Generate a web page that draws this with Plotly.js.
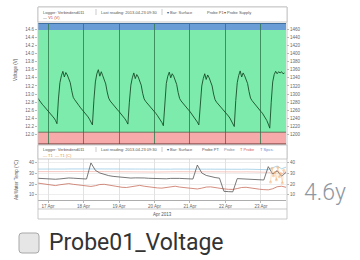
<!DOCTYPE html>
<html><head><meta charset="utf-8">
<script src="https://cdn.plot.ly/plotly-3.0.1.min.js"></script>
<style>html,body{margin:0;padding:0;background:#fff;overflow:hidden}#c{width:360px;height:260px}</style>
</head><body><div id="c"></div>
<script>
// ---------- data ----------
const voltStart = [2013, 3, 16, 17];   // 16 Apr 2013 17:00, hourly samples
const voltDay0 = [12.90,12.84,12.79,12.75,12.71,12.67,12.63,12.59,12.55,12.51,12.46,12.41,12.35,12.27,12.88,13.28,13.45,13.56,13.42,13.53,13.47,13.38,13.28,13.08];
const voltDay1 = [12.92,12.86,12.80,12.76,12.71,12.66,12.62,12.58,12.54,12.49,12.44,12.38,12.31,12.24,12.85,13.30,13.50,13.60,13.44,13.55,13.45,13.36,13.25,13.05];
const voltDay2 = [12.90,12.83,12.78,12.74,12.70,12.66,12.61,12.57,12.53,12.49,12.44,12.39,12.33,12.26,12.80,13.22,13.40,13.52,13.38,13.48,13.42,13.33,13.22,13.02];
const voltDay3 = [12.88,12.82,12.78,12.73,12.69,12.65,12.60,12.56,12.52,12.47,12.42,12.36,12.30,12.22,12.82,13.26,13.44,13.54,13.40,13.50,13.44,13.35,13.24,13.04];
const voltDay4 = [12.89,12.83,12.78,12.74,12.70,12.65,12.61,12.57,12.52,12.48,12.43,12.37,12.31,12.24,12.78,13.20,13.38,13.50,13.36,13.47,13.40,13.32,13.20,13.00];
const voltDay5 = [12.86,12.80,12.76,12.72,12.67,12.63,12.59,12.55,12.50,12.46,12.41,12.35,12.28,12.20,12.84,13.28,13.46,13.57,13.42,13.52,13.45,13.36,13.26,13.06];
const voltDay6 = [12.90,12.84,12.79,12.74,12.70,12.66,12.62,12.57,12.53,12.48,12.42,12.35,12.26,12.16,12.80,13.30,13.48,13.56,13.50,13.55,13.52,13.55,13.50,13.52];

const tempStart = [2013, 3, 16, 17];   // 3-hourly samples
const waterTemp = [25.5,25.2,25.0,24.8,24.6,24.9,25.4,25.8,
                   25.6,25.3,25.0,24.8,40.0,33.0,30.5,29.0,
                   28.0,27.3,26.8,26.3,26.0,25.7,25.9,26.1,
                   25.8,25.5,25.3,25.0,24.8,25.0,25.4,25.6,
                   25.4,25.2,25.0,24.8,38.0,30.5,28.2,27.0,
                   26.2,25.6,13.2,12.9,12.7,25.2,25.0,24.8,
                   24.6,24.3,24.1,23.9,36.5,29.5,32.5,27.5,31.0];
const airTemp   = [21.0,20.5,19.8,19.0,18.6,19.4,20.2,20.5,
                   19.8,19.2,18.5,18.0,17.8,18.5,19.6,19.8,
                   19.0,18.2,17.5,17.0,16.8,17.5,18.5,18.8,
                   18.0,17.3,16.8,16.4,16.2,16.8,17.8,18.0,
                   17.2,16.6,16.0,15.6,15.4,16.2,17.2,17.4,
                   16.6,16.0,15.5,15.1,15.0,15.8,16.8,17.0,
                   16.2,15.6,15.2,14.8,14.6,15.6,17.5,18.0,17.0];
const probeTemp = [34.2,34.1,34.0,34.0,33.9,34.0,34.2,34.3,
                   34.2,34.1,34.0,33.9,33.9,34.1,34.3,34.3,
                   34.2,34.0,33.9,33.9,33.8,34.0,34.2,34.2,
                   34.1,34.0,33.9,33.8,33.8,34.0,34.1,34.2,
                   34.1,34.0,33.9,33.8,33.7,33.9,34.1,34.1,
                   34.0,33.9,33.8,33.7,33.7,33.9,34.0,34.1,
                   34.0,33.9,33.8,33.7,33.6,35.5,37.0,34.5,36.0];
const loggerTemp = [31.8,31.7,31.6,31.6,31.5,31.6,31.8,31.9,
                   31.8,31.7,31.6,31.5,31.5,31.6,31.8,31.8,
                   31.7,31.6,31.5,31.5,31.4,31.5,31.7,31.7,
                   31.6,31.5,31.4,31.4,31.3,31.5,31.6,31.7,
                   31.6,31.5,31.4,31.3,31.3,31.4,31.6,31.6,
                   31.5,31.4,31.3,31.3,31.2,31.4,31.5,31.6,
                   31.5,31.4,31.3,31.2,31.2,30.0,33.0,29.5,32.0];
const spotTimes = ['2013-04-23 06:30','2013-04-23 07:30','2013-04-23 08:30','2013-04-23 09:30','2013-04-23 10:30','2013-04-23 11:30','2013-04-23 12:30','2013-04-23 13:30','2013-04-23 14:30','2013-04-23 15:30'];
const spotTemp  = [22, 35, 28, 31, 24, 36, 27, 30, 21, 33];

const xRange = ['2013-04-16 17:10', '2013-04-23 17:00'];
const dateTicks = ['2013-04-17','2013-04-18','2013-04-19','2013-04-20','2013-04-21','2013-04-22','2013-04-23'];
const dateTickLabels = ['17 Apr','18 Apr','19 Apr','20 Apr','21 Apr','22 Apr','23 Apr'];
const voltTicks = [12.0,12.2,12.4,12.6,12.8,13.0,13.2,13.4,13.6,13.8,14.0,14.2,14.4,14.6];
const voltTickLabels = ['12.0','12.2','12.4','12.6','12.8','13.0','13.2','13.4','13.6','13.8','14.0','14.2','14.4','14.6'];
const voltRightLabels = ['1200','1220','1240','1260','1280','1300','1320','1340','1360','1380','1400','1420','1440','1460'];
const tempTicks = [10, 20, 30, 40];
const tempTickLabels = ['10','20','30','40'];
const bands = {blue:[14.58, 14.75], green:[12.06, 14.58], red:[11.77, 12.06]};

// ---------- helpers ----------
function pad(n){return (n<10?'0':'')+n;}
function times(start, stepH, n){
  const t0 = Date.UTC(start[0], start[1], start[2], start[3]);
  const out = [];
  for (let i=0;i<n;i++){
    const d = new Date(t0 + i*stepH*3600e3);
    out.push(d.getUTCFullYear()+'-'+pad(d.getUTCMonth()+1)+'-'+pad(d.getUTCDate())+' '+pad(d.getUTCHours())+':'+pad(d.getUTCMinutes()));
  }
  return out;
}
const voltage = [].concat(voltDay0,voltDay1,voltDay2,voltDay3,voltDay4,voltDay5,voltDay6);
const voltTimes = times(voltStart, 1, voltage.length);
const tempTimes = times(tempStart, 3, waterTemp.length);

const W=360, H=260;
const px = x => x/W, py = y => 1 - y/H;
const L=38, R=286;

const traces = [
  {x:voltTimes, y:voltage, xaxis:'x', yaxis:'y', mode:'lines', line:{color:'#174d28', width:0.9}, hoverinfo:'skip'},
  {x:[xRange[0]], y:[13], xaxis:'x', yaxis:'y3', mode:'markers', marker:{opacity:0}, hoverinfo:'skip'},
  {x:tempTimes, y:probeTemp, xaxis:'x2', yaxis:'y2', mode:'lines', line:{color:'#9ccbe6', width:0.8}, hoverinfo:'skip'},
  {x:tempTimes, y:loggerTemp, xaxis:'x2', yaxis:'y2', mode:'lines', line:{color:'#f2b9b0', width:0.8}, hoverinfo:'skip'},
  {x:tempTimes, y:airTemp, xaxis:'x2', yaxis:'y2', mode:'lines', line:{color:'#c8705e', width:0.8}, hoverinfo:'skip'},
  {x:tempTimes, y:waterTemp, xaxis:'x2', yaxis:'y2', mode:'lines', line:{color:'#555', width:0.8}, hoverinfo:'skip'},
  {x:spotTimes, y:spotTemp, xaxis:'x2', yaxis:'y2', mode:'lines+markers', line:{color:'rgba(245,175,110,0.5)', width:0.8}, marker:{color:'rgba(245,175,110,0.5)', size:3}, hoverinfo:'skip'},
  {x:[xRange[0]], y:[20], xaxis:'x2', yaxis:'y4', mode:'markers', marker:{opacity:0}, hoverinfo:'skip'}
];

const tf = {size:4.5, color:'#666', family:'Liberation Sans, Arial, sans-serif'};
const shapes = [
  {type:'rect', xref:'paper', yref:'y', x0:px(L), x1:px(R), y0:bands.blue[0], y1:bands.blue[1], fillcolor:'#6a9cd6', line:{width:0}, layer:'below'},
  {type:'rect', xref:'paper', yref:'y', x0:px(L), x1:px(R), y0:bands.green[0], y1:bands.green[1], fillcolor:'#7debab', line:{width:0}, layer:'below'},
  {type:'rect', xref:'paper', yref:'y', x0:px(L), x1:px(R), y0:bands.red[0], y1:bands.red[1], fillcolor:'#f6aaaa', line:{width:0}, layer:'below'},
  {type:'line', xref:'paper', yref:'paper', x0:px(L), x1:px(R), y0:py(23.5), y1:py(23.5), line:{color:'#3f6f9f', width:1}},
  {type:'line', xref:'paper', yref:'y', x0:px(L), x1:px(R), y0:bands.red[1], y1:bands.red[1], line:{color:'#5a5a4a', width:0.8}},
  {type:'line', xref:'paper', yref:'paper', x0:px(L), x1:px(R), y0:py(144), y1:py(144), line:{color:'#6a3030', width:1.2}},
  // frame
  {type:'rect', xref:'paper', yref:'paper', x0:px(L), x1:px(287), y0:py(219), y1:py(7), line:{color:'#bbb', width:0.8}},
  {type:'rect', xref:'paper', yref:'paper', x0:px(L), x1:px(287), y0:py(22), y1:py(7), line:{color:'#bbb', width:0.8}, fillcolor:'#fff'},
  {type:'rect', xref:'paper', yref:'paper', x0:px(L), x1:px(287), y0:py(159), y1:py(145), line:{color:'#bbb', width:0.8}, fillcolor:'#fff'},
  {type:'line', xref:'paper', yref:'paper', x0:px(L), x1:px(287), y0:py(209), y1:py(209), line:{color:'#bbb', width:0.8}},
  {type:'line', xref:'paper', yref:'paper', x0:px(96), x1:px(96), y0:py(15), y1:py(9), line:{color:'#aaa', width:0.6}},
  {type:'line', xref:'paper', yref:'paper', x0:px(162), x1:px(162), y0:py(15), y1:py(9), line:{color:'#aaa', width:0.6}},
  {type:'line', xref:'paper', yref:'paper', x0:px(96), x1:px(96), y0:py(152), y1:py(147), line:{color:'#aaa', width:0.6}},
  {type:'line', xref:'paper', yref:'paper', x0:px(162), x1:px(162), y0:py(152), y1:py(147), line:{color:'#aaa', width:0.6}},
  // checkbox
  {type:'path', xref:'paper', yref:'paper',
   path:'M '+px(22)+' '+py(233)+' L '+px(36)+' '+py(233)+' Q '+px(39)+' '+py(233)+' '+px(39)+' '+py(236)+' L '+px(39)+' '+py(250)+' Q '+px(39)+' '+py(253)+' '+px(36)+' '+py(253)+' L '+px(22)+' '+py(253)+' Q '+px(19)+' '+py(253)+' '+px(19)+' '+py(250)+' L '+px(19)+' '+py(236)+' Q '+px(19)+' '+py(233)+' '+px(22)+' '+py(233)+' Z',
   fillcolor:'#e6e6e6', line:{color:'#a8a8a8', width:1}}
];

const ann = (x,y,text,opts) => Object.assign({xref:'paper', yref:'paper', x:px(x), y:py(y), text:text, showarrow:false, xanchor:'left', yanchor:'middle', font:{size:4, color:'#555', family:'Liberation Sans, Arial, sans-serif'}}, opts||{});
const annotations = [
  ann(41, 12, 'Logger: Verbindend011'),
  ann(99, 12, 'Last reading: 2013-04-23 09:30'),
  ann(165, 12, '\u25BE Bar: Surface'),
  ann(205, 12, 'Probe P1'),
  ann(222, 12, '\u25BE Probe Supply'),
  ann(41, 18, '\u2014 <span style="color:#d04040">V1 (V)</span>'),
  ann(41, 149.5, 'Logger: Verbindend011'),
  ann(99, 149.5, 'Last reading: 2013-04-23 09:30'),
  ann(165, 149.5, '\u25BE Bar: Surface'),
  ann(200, 149.5, 'Probe PT'),
  ann(222, 149.5, '<span style="color:#7a8aa0">Probe</span>'),
  ann(238, 149.5, '<span style="color:#d06060">T Probe</span>'),
  ann(258, 149.5, '<span style="color:#5a8ad0">T Spcs.</span>'),
  ann(41, 155.5, '<span style="color:#e0903a">\u2014 T1  \u2014 T1 (C)</span>'),
  ann(16, 70, 'Voltage (V)', {xanchor:'center', textangle:-90, font:{size:4.5, color:'#555'}}),
  ann(16, 180, 'Air/Water Temp (\u00B0C)', {xanchor:'center', textangle:-90, font:{size:4.5, color:'#555'}}),
  ann(162, 214, 'Apr 2013', {xanchor:'center', font:{size:4.5, color:'#555'}}),
  ann(302, 192, '4.6y', {font:{size:23, color:'#8e97a2', family:'Roboto, sans-serif', weight:300}}),
  ann(47, 242, 'Probe01_Voltage', {font:{size:23, color:'#333', family:'Roboto, sans-serif'}})
];

const layout = {
  width:W, height:H, margin:{l:0,r:0,t:0,b:0},
  paper_bgcolor:'#fff', plot_bgcolor:'rgba(0,0,0,0)', showlegend:false,
  font:tf,
  xaxis:{domain:[px(L),px(R)], anchor:'y', type:'date', range:xRange, tickvals:dateTicks, showticklabels:false,
         showgrid:true, gridcolor:'#2e7a4b', gridwidth:0.8, zeroline:false, ticks:'', showline:false},
  yaxis:{domain:[py(144),py(23)], anchor:'x', range:[bands.red[0], bands.blue[1]], tickvals:voltTicks, ticktext:voltTickLabels,
         ticks:'outside', ticklen:2, tickwidth:0.6, tickcolor:'#888', showgrid:false, zeroline:false, tickfont:tf, showline:false},
  yaxis3:{overlaying:'y', side:'right', anchor:'x', range:[bands.red[0], bands.blue[1]], tickvals:voltTicks, ticktext:voltRightLabels,
         ticks:'outside', ticklen:2, tickwidth:0.6, tickcolor:'#888', showgrid:false, zeroline:false, tickfont:tf, showline:false},
  xaxis2:{domain:[px(L),px(R)], anchor:'y2', type:'date', range:xRange, tickvals:dateTicks, ticktext:dateTickLabels,
         showgrid:true, gridcolor:'#cfcfcf', gridwidth:0.6, zeroline:false, ticks:'outside', ticklen:2, tickwidth:0.6, tickcolor:'#888',
         showline:true, linecolor:'#999', linewidth:0.8, tickfont:tf},
  yaxis2:{domain:[py(200),py(159)], anchor:'x2', range:[5,43.7], tickvals:tempTicks, ticktext:tempTickLabels,
         ticks:'outside', ticklen:2, tickwidth:0.6, tickcolor:'#888', showgrid:true, gridcolor:'#e2e2e2', gridwidth:0.6, zeroline:false, tickfont:tf},
  yaxis4:{overlaying:'y2', side:'right', anchor:'x2', range:[5,43.7], tickvals:tempTicks, ticktext:tempTickLabels,
         ticks:'outside', ticklen:2, tickwidth:0.6, tickcolor:'#888', showgrid:false, zeroline:false, tickfont:tf},
  shapes:shapes, annotations:annotations
};
Plotly.newPlot('c', traces, layout, {staticPlot:true, displayModeBar:false});
</script></body></html>
